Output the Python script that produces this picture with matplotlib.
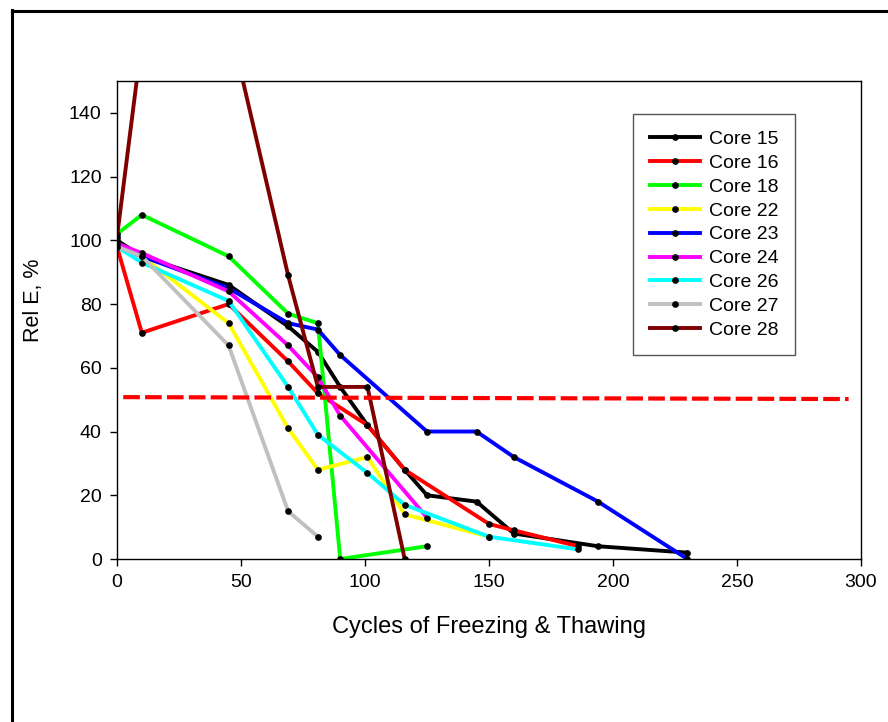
import matplotlib.pyplot as plt
from matplotlib.lines import Line2D

plt.rcParams['font.family'] = ['Liberation Sans', 'DejaVu Sans']

# Relative dynamic modulus vs freeze-thaw cycles, per core
cores = ["Core 15", "Core 16", "Core 18", "Core 22", "Core 23",
         "Core 24", "Core 26", "Core 27", "Core 28"]
colors = ["#000000", "#ff0000", "#00ff00", "#ffff00", "#0000ff",
          "#ff00ff", "#00ffff", "#c0c0c0", "#800000"]

cycles_15 = [0, 10, 45, 69, 81, 90, 101, 116, 125, 145, 160, 194, 230]
rel_e_15 = [100, 95, 86, 73, 65, 54, 42, 28, 20, 18, 8, 4, 2]
cycles_16 = [0, 10, 45, 69, 81, 101, 116, 150, 160, 186]
rel_e_16 = [98, 71, 80, 62, 52, 42, 28, 11, 9, 4]
cycles_18 = [0, 10, 45, 69, 81, 90, 125]
rel_e_18 = [102, 108, 95, 77, 74, 0, 4]
cycles_22 = [0, 10, 45, 69, 81, 101, 116, 150]
rel_e_22 = [98, 95, 74, 41, 28, 32, 14, 7]
cycles_23 = [0, 10, 45, 69, 81, 90, 125, 145, 160, 194, 230]
rel_e_23 = [98, 95, 85, 74, 72, 64, 40, 40, 32, 18, 0]
cycles_24 = [0, 10, 45, 69, 81, 90, 125]
rel_e_24 = [99, 96, 84, 67, 57, 45, 13]
cycles_26 = [0, 10, 45, 69, 81, 101, 116, 150, 186]
rel_e_26 = [98, 93, 81, 54, 39, 27, 17, 7, 3]
cycles_27 = [0, 10, 45, 69, 81]
rel_e_27 = [98, 95, 67, 15, 7]
cycles_28 = [0, 23, 69, 81, 101, 116]
rel_e_28 = [101, 243, 89, 54, 54, 0]

all_cycles = [cycles_15, cycles_16, cycles_18, cycles_22, cycles_23,
              cycles_24, cycles_26, cycles_27, cycles_28]
all_rel_e = [rel_e_15, rel_e_16, rel_e_18, rel_e_22, rel_e_23,
             rel_e_24, rel_e_26, rel_e_27, rel_e_28]

# 50% failure line (drawn slightly sloped in the original)
limit_x = [2.5, 295]
limit_y = [50.8, 50.2]

fig = plt.figure(figsize=(8.88, 7.22), dpi=100)
ax = fig.add_axes([117 / 888, 1 - 559 / 722, 744 / 888, 478 / 722])

for x, y, name, c in zip(all_cycles, all_rel_e, cores, colors):
    ax.plot(x, y, color=c, lw=2.8, marker='o', ms=3.8,
            mfc='black', mec='black', label=name, solid_joinstyle='miter')

ax.plot(limit_x, limit_y, color='#ff0000', lw=3.0, dashes=(4.0, 1.25),
        dash_capstyle='butt')

ax.set_xlim(0, 300)
ax.set_ylim(0, 150)
ax.set_xticks(range(0, 301, 50))
ax.set_yticks(range(0, 141, 20))
ax.tick_params(direction='out', length=5, width=1, labelsize=14, pad=6)
for s in ax.spines.values():
    s.set_linewidth(1.0)

ax.set_xlabel("Cycles of Freezing & Thawing", fontsize=17)
ax.xaxis.set_label_coords(0.5, -(627 - 559) / 478)
ax.xaxis.label.set_va('center')
ax.set_ylabel("Rel E, %", fontsize=15.5)
ax.yaxis.set_label_coords((33 - 117) / 744, (559 - 300) / 478)
ax.yaxis.label.set_va('center')

leg = ax.legend(loc='upper left', bbox_to_anchor=((633 - 117) / 744, (559 - 114) / 478),
                borderaxespad=0, fontsize=14, numpoints=1, handlelength=2.6,
                handletextpad=0.45, labelspacing=0.32, fancybox=False,
                framealpha=1, edgecolor='#555555', borderpad=0.85)
leg.get_frame().set_linewidth(1.0)

# outer border of the original figure (left and top only visible)
fig.add_artist(Line2D([11.5 / 888, 11.5 / 888], [0, 1 - 10 / 722],
                      transform=fig.transFigure, color='black', lw=2.2,
                      solid_capstyle='projecting'))
fig.add_artist(Line2D([11.5 / 888, 1], [1 - 10.5 / 722, 1 - 10.5 / 722],
                      transform=fig.transFigure, color='black', lw=2.2,
                      solid_capstyle='projecting'))

fig.savefig("out.png", dpi=100)
